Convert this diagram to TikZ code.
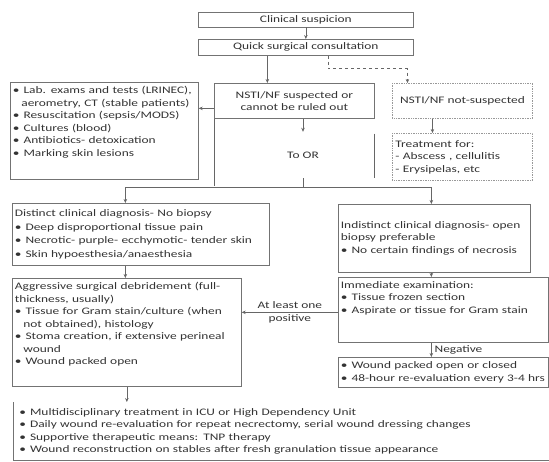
\documentclass[tikz,border=0pt]{standalone}
\usepackage{fontspec}
\setmainfont{Carlito}[FakeStretch=1.34]
\usetikzlibrary{positioning,arrows.meta,calc}

\newcommand{\bul}{\textbullet\hspace{4pt}}
\newcommand{\ind}{\hspace*{8.5pt}}

\begin{document}
\begin{tikzpicture}[
    x=1pt, y=-1pt,
    font=\fontsize{10}{12.5}\selectfont,
    box/.style  ={draw=black!55, line width=0.7pt, text=black!80, inner sep=3pt},
    lst/.style  ={box, align=left, anchor=north west, inner xsep=2.5pt},
    dots/.style ={box, draw=black!40, densely dotted, line width=0.9pt},
    edge/.style ={draw=black!60, line width=0.6pt},
    arrow/.style={edge, -{Stealth[length=4pt,width=3.5pt]}},
    lbl/.style  ={text=black!80, align=center, inner sep=1pt},
]

\useasboundingbox (0,0) rectangle (549,462);

% ---------- Top ----------
\node[box, minimum width=215pt, minimum height=14pt, anchor=north west] (susp) at (198,12) {Clinical suspicion};
\node[box, minimum width=215pt, minimum height=16pt, anchor=north west] (consult) at (198,39) {Quick surgical consultation};

\node[box, minimum width=160pt, minimum height=35pt, align=center, anchor=north west]
  (suspect) at (214,83) {NSTI/NF suspected or\\cannot be ruled out};
\node[dots, minimum width=140pt, minimum height=35pt, anchor=north west]
  (notsusp) at (392,83) {NSTI/NF not-suspected};

% Left column: first measures
\node[lst, text width=183pt, inner ysep=4pt, text depth=82pt] (labs) at (10,82)
  {\bul Lab. exams and tests (LRINEC),\\
   \ind aerometry, CT (stable patients)\\
   \bul Resuscitation (sepsis/MODS)\\
   \bul Cultures (blood)\\
   \bul Antibiotics- detoxication\\
   \bul Marking skin lesions};

% To OR and the other branch
\node[lbl, minimum height=46pt] (toor) at (303,155) {To OR};
\node[dots, align=left, anchor=north west, text width=134pt, minimum height=47pt]
  (treat) at (392,133)
  {Treatment for:\\- Abscess , cellulitis\\- Erysipelas, etc};

% ---------- Diagnosis ----------
\node[lst, text width=252pt, minimum height=62pt] (distinct) at (12,203)
  {Distinct clinical diagnosis- No biopsy\\[1pt]
   \bul Deep disproportional tissue pain\\[1pt]
   \bul Necrotic- purple- ecchymotic- tender skin\\[1pt]
   \bul Skin hypoesthesia/anaesthesia};
\node[lst, text width=187pt, minimum height=68pt] (indistinct) at (338,204)
  {Indistinct clinical diagnosis- open\\
   biopsy preferable\\
   \bul No certain findings of necrosis};

% ---------- Surgery / examination ----------
\node[lst, text width=224pt, inner ysep=4pt, text depth=93pt] (aggr) at (12,278)
  {Aggressive surgical debridement (full-\\
   thickness, usually)\\
   \bul Tissue for Gram stain/culture (when\\
   \ind not obtained), histology\\
   \bul Stoma creation, if extensive perineal\\
   \ind wound\\
   \bul Wound packed open};
\node[lst, text width=205pt, inner ysep=4pt, text depth=50pt] (immed) at (338,277)
  {Immediate examination:\\
   \bul Tissue frozen section\\
   \bul Aspirate or tissue for Gram stain};
\node[lst, text width=205pt, minimum height=30pt] (packed) at (338,357)
  {\bul Wound packed open or closed\\
   \bul 48-hour re-evaluation every 3-4 hrs};

% ---------- Bottom ----------
\node[lst, draw=none, text width=524pt, inner xsep=6pt, minimum height=58pt] (multi) at (13,402)
  {\bul Multidisciplinary treatment in ICU or High Dependency Unit\\
   \bul Daily wound re-evaluation for repeat necrectomy, serial wound dressing changes\\
   \bul Supportive therapeutic means: TNP therapy\\
   \bul Wound reconstruction on stables after fresh granulation tissue appearance};
\draw[box] (multi.north west) -- (multi.south west) -- (multi.south east);

% ---------- Connectors ----------
\draw[arrow] (susp) -- (consult);
\draw[arrow] ([xshift=-38.5pt]consult.south) -- ([xshift=-38.5pt]consult.south |- suspect.north);
\draw[arrow, dashed] ([xshift=22.5pt]consult.south) -- ++(0,13) -| ([xshift=-55pt]notsusp.north);
\draw[arrow] ([yshift=-7.5pt]suspect.west) -- ([yshift=-7.5pt]suspect.west -| labs.east);
\draw[arrow] (suspect.south -| toor.north) -- (toor.north);
\draw[arrow] ([xshift=-30pt]notsusp.south) -- ([xshift=-30pt]treat.north);

% sides of the To OR field
\draw[edge] (suspect.south west) -- ([yshift=-67pt]suspect.south west);
\draw[edge] ([yshift=-15pt]suspect.south east) -- ([yshift=-59pt]suspect.south east);

\coordinate (fork) at (303,187);
\draw[edge] (toor.south) -- (fork);
\draw[arrow] (fork) -| ([xshift=-15.5pt]distinct.north);
\draw[arrow] (fork) -| ([xshift=-3pt]indistinct.north);

\draw[arrow] ([xshift=-15.5pt]distinct.south) -- ([xshift=-15.5pt]distinct.south |- aggr.north);
\draw[arrow] ([xshift=-3pt]indistinct.south) -- ([xshift=-3pt]indistinct.south |- immed.north);
\draw[arrow] ([xshift=-12pt]immed.south) -- ([xshift=-12pt]immed.south |- packed.north)
  node[midway, right, lbl, xshift=2pt] {Negative};
\draw[arrow] ([yshift=-2.5pt]immed.west) -- ([yshift=-2.5pt]immed.west -| aggr.east)
  node[midway, lbl] {At least one\\positive};
\draw[arrow] (aggr.south) -- (aggr.south |- multi.north);

\end{tikzpicture}
\end{document}
